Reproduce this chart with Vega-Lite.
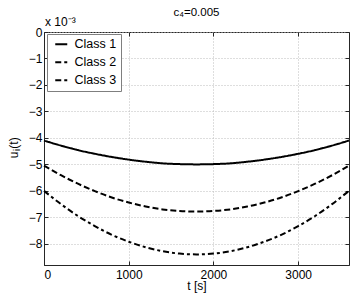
{
 "$schema": "https://vega.github.io/schema/vega-lite/v6.json",
 "width": 305, "height": 233,
 "autosize": "none",
 "padding": {"left": 44, "top": 32, "right": 5, "bottom": 33},
 "background": "white",
 "title": {"text": "c₄=0.005", "fontSize": 11.5, "fontWeight": "normal", "font": "Liberation Sans", "color": "black", "offset": 0, "dy": 2, "frame": "group"},
 "config": {
  "view": {"stroke": "#262626", "strokeWidth": 1},
  "axis": {"labelFont": "Liberation Sans", "labelFontSize": 12, "labelColor": "black", "titleFont": "Liberation Sans", "titleFontSize": 12, "titleFontWeight": "normal", "titleColor": "black", "domainColor": "#262626", "tickColor": "#262626", "tickSize": -4, "gridColor": "#bdbdbd", "gridDash": [1, 2], "gridWidth": 1}
 },
 "data": {"values": [
  {"t": 0, "c": "Class 1", "u": -0.00410}, {"t": 200, "c": "Class 1", "u": -0.00429}, {"t": 400, "c": "Class 1", "u": -0.00446}, {"t": 600, "c": "Class 1", "u": -0.00460}, {"t": 800, "c": "Class 1", "u": -0.00472}, {"t": 1000, "c": "Class 1", "u": -0.00482}, {"t": 1200, "c": "Class 1", "u": -0.00490}, {"t": 1400, "c": "Class 1", "u": -0.00496}, {"t": 1600, "c": "Class 1", "u": -0.00499}, {"t": 1800, "c": "Class 1", "u": -0.00500}, {"t": 2000, "c": "Class 1", "u": -0.00499}, {"t": 2200, "c": "Class 1", "u": -0.00496}, {"t": 2400, "c": "Class 1", "u": -0.00490}, {"t": 2600, "c": "Class 1", "u": -0.00482}, {"t": 2800, "c": "Class 1", "u": -0.00472}, {"t": 3000, "c": "Class 1", "u": -0.00460}, {"t": 3200, "c": "Class 1", "u": -0.00446}, {"t": 3400, "c": "Class 1", "u": -0.00429}, {"t": 3600, "c": "Class 1", "u": -0.00410},
  {"t": 0, "c": "Class 2", "u": -0.00505}, {"t": 200, "c": "Class 2", "u": -0.00541}, {"t": 400, "c": "Class 2", "u": -0.00573}, {"t": 600, "c": "Class 2", "u": -0.00601}, {"t": 800, "c": "Class 2", "u": -0.00625}, {"t": 1000, "c": "Class 2", "u": -0.00644}, {"t": 1200, "c": "Class 2", "u": -0.00659}, {"t": 1400, "c": "Class 2", "u": -0.00670}, {"t": 1600, "c": "Class 2", "u": -0.00676}, {"t": 1800, "c": "Class 2", "u": -0.00678}, {"t": 2000, "c": "Class 2", "u": -0.00676}, {"t": 2200, "c": "Class 2", "u": -0.00670}, {"t": 2400, "c": "Class 2", "u": -0.00659}, {"t": 2600, "c": "Class 2", "u": -0.00644}, {"t": 2800, "c": "Class 2", "u": -0.00625}, {"t": 3000, "c": "Class 2", "u": -0.00601}, {"t": 3200, "c": "Class 2", "u": -0.00573}, {"t": 3400, "c": "Class 2", "u": -0.00541}, {"t": 3600, "c": "Class 2", "u": -0.00505},
  {"t": 0, "c": "Class 3", "u": -0.00600}, {"t": 200, "c": "Class 3", "u": -0.00650}, {"t": 400, "c": "Class 3", "u": -0.00695}, {"t": 600, "c": "Class 3", "u": -0.00733}, {"t": 800, "c": "Class 3", "u": -0.00766}, {"t": 1000, "c": "Class 3", "u": -0.00792}, {"t": 1200, "c": "Class 3", "u": -0.00813}, {"t": 1400, "c": "Class 3", "u": -0.00828}, {"t": 1600, "c": "Class 3", "u": -0.00837}, {"t": 1800, "c": "Class 3", "u": -0.00840}, {"t": 2000, "c": "Class 3", "u": -0.00837}, {"t": 2200, "c": "Class 3", "u": -0.00828}, {"t": 2400, "c": "Class 3", "u": -0.00813}, {"t": 2600, "c": "Class 3", "u": -0.00792}, {"t": 2800, "c": "Class 3", "u": -0.00766}, {"t": 3000, "c": "Class 3", "u": -0.00733}, {"t": 3200, "c": "Class 3", "u": -0.00695}, {"t": 3400, "c": "Class 3", "u": -0.00650}, {"t": 3600, "c": "Class 3", "u": -0.00600}
 ]},
 "layer": [
  {
   "mark": {"type": "line", "strokeWidth": 2, "color": "black", "interpolate": "monotone"},
   "encoding": {
    "x": {"field": "t", "type": "quantitative", "scale": {"domain": [0, 3600], "nice": false, "zero": false},
      "axis": {"title": "t [s]", "values": [0, 1000, 2000, 3000], "format": "d", "grid": true, "labelPadding": 8, "titlePadding": 0}},
    "y": {"field": "u", "type": "quantitative", "scale": {"domain": [-0.0088, 0], "nice": false, "zero": false},
      "axis": {"title": null, "values": [-0.008, -0.007, -0.006, -0.005, -0.004, -0.003, -0.002, -0.001, 0], "labelExpr": "format(datum.value*1000, 'd')", "grid": true, "labelPadding": 6}},
    "strokeDash": {"field": "c", "type": "nominal",
      "scale": {"domain": ["Class 1", "Class 2", "Class 3"], "range": [[1, 0], [6, 3], [6, 3, 3, 3]]},
      "legend": {"title": null, "orient": "none", "legendX": 3, "legendY": 2, "fillColor": "white", "strokeColor": "#7f7f7f", "padding": 4, "symbolType": "M-1.5,0H1.5", "symbolSize": 64, "symbolOffset": 4, "symbolStrokeWidth": 2, "symbolStrokeColor": "black", "labelFont": "Liberation Sans", "labelFontSize": 12.5, "labelColor": "black", "labelOffset": 7, "rowPadding": 5}}
   }
  },
  {
   "data": {"values": [{}]},
   "mark": {"type": "text", "text": "x 10⁻³", "align": "left", "baseline": "bottom", "dx": 1, "dy": -3, "font": "Liberation Sans", "fontSize": 12, "color": "black"},
   "encoding": {
    "x": {"datum": 0, "type": "quantitative", "axis": {"orient": "top", "labels": false, "grid": false, "domain": false, "title": null, "values": [0, 1000, 2000, 3000]}},
    "y": {"datum": 0, "type": "quantitative", "axis": {"orient": "right", "labels": false, "grid": false, "domain": false, "title": null, "values": [-0.008, -0.007, -0.006, -0.005, -0.004, -0.003, -0.002, -0.001, 0]}}
   }
  },
  {
   "data": {"values": [{}]},
   "mark": {"type": "text", "text": "u", "align": "right", "angle": 270, "dx": -3, "dy": -30, "font": "Liberation Sans", "fontSize": 12, "color": "black"},
   "encoding": {"x": {"datum": 0, "type": "quantitative", "axis": null}, "y": {"datum": -0.0044, "type": "quantitative", "axis": null}}
  },
  {
   "data": {"values": [{}]},
   "mark": {"type": "text", "text": "i", "align": "left", "angle": 270, "dx": -2.6, "dy": -27, "font": "Liberation Sans", "fontSize": 9, "color": "black"},
   "encoding": {"x": {"datum": 0, "type": "quantitative", "axis": null}, "y": {"datum": -0.0044, "type": "quantitative", "axis": null}}
  },
  {
   "data": {"values": [{}]},
   "mark": {"type": "text", "text": "(t)", "align": "left", "angle": 270, "dx": -0.2, "dy": -30, "font": "Liberation Sans", "fontSize": 12, "color": "black"},
   "encoding": {"x": {"datum": 0, "type": "quantitative", "axis": null}, "y": {"datum": -0.0044, "type": "quantitative", "axis": null}}
  }
 ],
 "resolve": {"axis": {"x": "independent", "y": "independent"}}
}
